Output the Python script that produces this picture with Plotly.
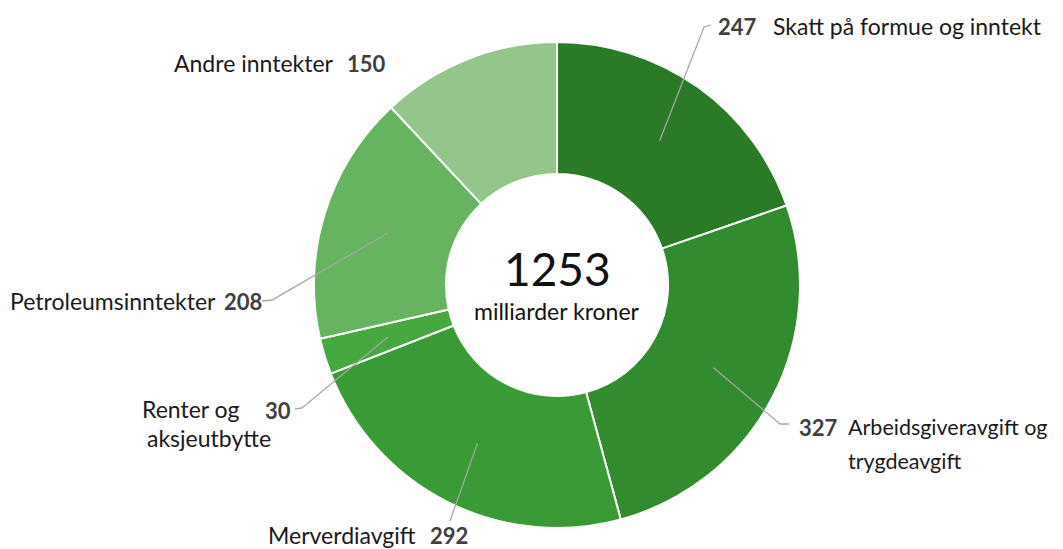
import math
import plotly.graph_objects as go

categories = ["Skatt på formue og inntekt", "Arbeidsgiveravgift og trygdeavgift",
              "Merverdiavgift", "Renter og aksjeutbytte", "Petroleumsinntekter",
              "Andre inntekter"]
values = [247, 327, 292, 30, 208, 150]
colors = ["#2b7a28", "#338b2f", "#3a9a35", "#46a83f", "#66b45f", "#94c68b"]
total_label = "1253"
unit_label = "milliarder kroner"

W, H = 1063, 549
FONT = "Lato"
LBL = 23
NUM = 22

fig = go.Figure(go.Pie(
    labels=categories, values=values, sort=False, direction="clockwise",
    rotation=0, hole=0.457, textinfo="none", hoverinfo="label+value",
    marker=dict(colors=colors, line=dict(color="white", width=2)),
    domain=dict(x=[314 / W, 800 / W], y=[1 - 528 / H, 1 - 42 / H]),
    showlegend=False,
))

# geometry (pixels) of the donut, used to place leader-line starts at slice mid-angles
cx, cy, r_out, r_in = 557, 285, 243, 111
r_mid = (r_out + r_in) / 2
tot = sum(values)
cum = 0
mids = []
for v in values:
    mids.append((cum + v / 2) / tot * 2 * math.pi)
    cum += v

def px(x, y):
    return x / W, 1 - y / H

def start(i):
    a = mids[i]
    return cx + r_mid * math.sin(a), cy - r_mid * math.cos(a)

# leader-line elbows per slice
leaders = {
    0: [(704, 27), (711, 25)],
    1: [(780, 424), (789, 424)],
    2: [(450, 521)],
    3: [(302, 408), (295, 409)],
    4: [(272, 300), (262, 301)],
}
shapes = []
for i, pts in leaders.items():
    p = [start(i)] + pts
    path = "M " + " L ".join(f"{px(x, y)[0]},{px(x, y)[1]}" for x, y in p)
    shapes.append(dict(type="path", xref="paper", yref="paper", path=path,
                       line=dict(color="#a6a6a6", width=1.3)))

ann = []
def txt(x, y, s, bold=False, anchor="left", size=None, color=None):
    X, Y = px(x, y)
    if size is None:
        size = NUM if bold else LBL
    ann.append(dict(xref="paper", yref="paper", x=X, y=Y, xanchor=anchor, yanchor="middle",
                    text=f"<b>{s}</b>" if bold else s, showarrow=False,
                    font=dict(family=FONT, size=size,
                              color=color or ("#404040" if bold else "#1a1a1a"))))

txt(716, 26, str(values[0]), bold=True)
txt(771, 26, "Skatt på formue og inntekt")
txt(797, 427, str(values[1]), bold=True)
txt(846, 427, "Arbeidsgiveravgift og", size=21.5)
txt(846, 461, "trygdeavgift", size=21.5)
txt(418, 535, "Merverdiavgift", anchor="right")
txt(428, 535, str(values[2]), bold=True)
txt(242, 409, "Renter og", anchor="right")
txt(145, 438, "aksjeutbytte")
txt(263, 410, str(values[3]), bold=True)
txt(218, 301, "Petroleumsinntekter", anchor="right")
txt(222, 301, str(values[4]), bold=True)
txt(336, 63, "Andre inntekter", anchor="right")
txt(345, 63, str(values[5]), bold=True)
txt(557, 268, total_label, anchor="center", size=46, color="#111111")
txt(557, 311, unit_label, anchor="center", size=23, color="#111111")

fig.update_layout(width=W, height=H, margin=dict(l=0, r=0, t=0, b=0),
                  paper_bgcolor="white", plot_bgcolor="white",
                  shapes=shapes, annotations=ann)
fig.write_html("out.html", config={"displayModeBar": False},
               post_script="document.body.style.margin='0px';document.body.style.overflow='hidden';")
